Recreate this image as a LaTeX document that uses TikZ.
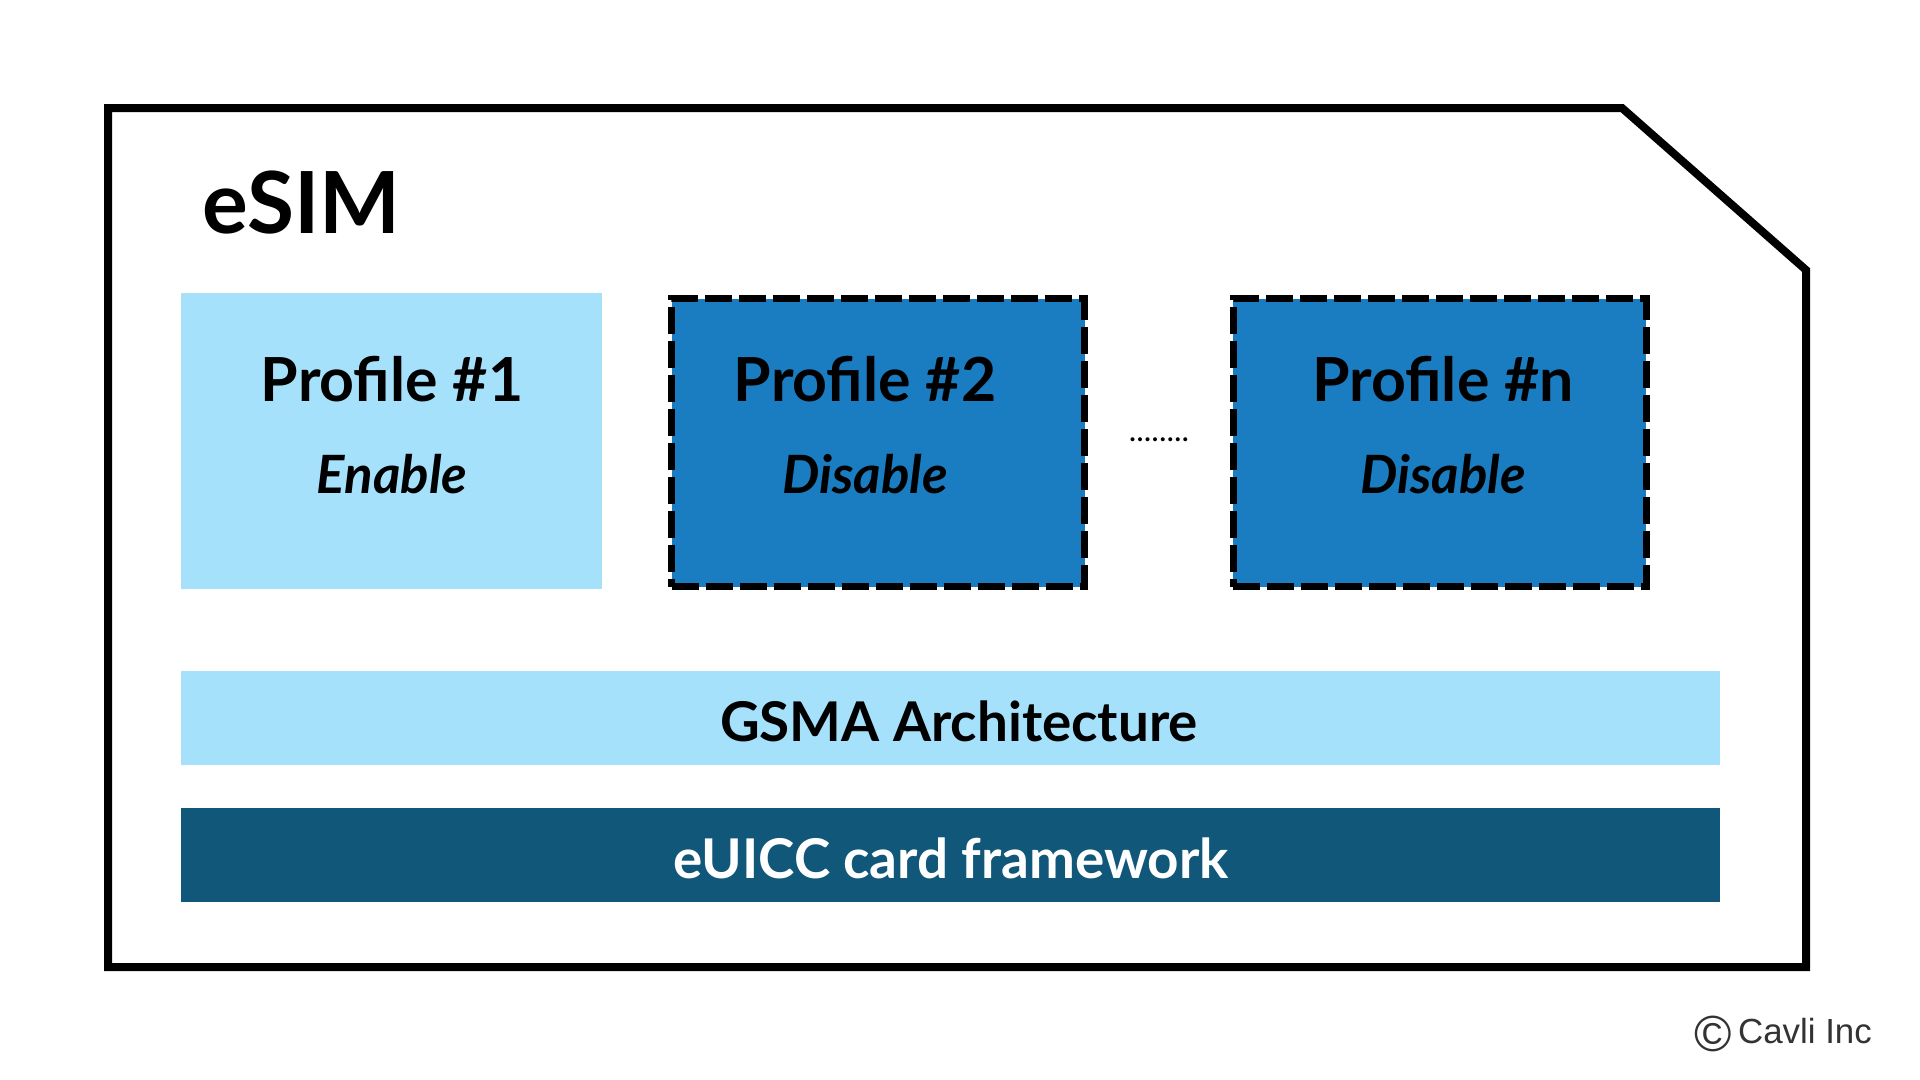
\documentclass[tikz,border=0pt]{standalone}
\usepackage{fontspec}
\setmainfont{Lato}
\newfontfamily\cavlifont{Liberation Sans}
\usepackage{xcolor}
\definecolor{SkyBlue}{HTML}{A6E1FC}
\definecolor{MidBlue}{HTML}{1A7CC1}
\definecolor{DeepBlue}{HTML}{115779}
\definecolor{NoteGray}{HTML}{333333}
\usetikzlibrary{positioning}

\begin{document}
\begin{tikzpicture}[
	box/.style={anchor=north west, inner sep=0pt, outer sep=0pt},
	profileon/.style={box, fill=SkyBlue, minimum width=421bp, minimum height=296bp},
	profileoff/.style={box, fill=MidBlue, draw=black, line width=7bp, dash pattern=on 27bp off 7bp, minimum width=413bp, minimum height=288bp},
	layer/.style={box, minimum width=1539bp, minimum height=94bp},
	profname/.style={anchor=base, inner sep=0pt, font=\bfseries\fontsize{61}{70}\selectfont},
	profstate/.style={anchor=base, inner sep=0pt, font=\bfseries\itshape\fontsize{53}{62}\selectfont},
	layertext/.style={anchor=base, inner sep=0pt, font=\bfseries\fontsize{55}{64}\selectfont}]
	\useasboundingbox (0bp,0bp) rectangle (1920bp,-1080bp);

	% card outline with cut corner
	\draw [line width=8bp, line join=miter] (108bp,-108bp) -- (1622bp,-108bp) -- (1806bp,-270bp)
		-- (1806bp,-967bp) -- (108bp,-967bp) -- cycle;
	\node (esim) at (202bp,-233bp) [anchor=base west, inner sep=0pt, font=\bfseries\fontsize{86}{100}\selectfont] {eSIM};

	% profiles
	\node (p1) at (181bp,-293bp)    [profileon]  {};
	\node (p2) at (671.5bp,-298.5bp) [profileoff] {};
	\node (pn) at (1233bp,-298.5bp) [profileoff] {};

	\node (p1name)  at (392bp,-401bp)  [profname]  {Profile \#1};
	\node (p1state) at (392bp,-493bp)  [profstate] {Enable};
	\node (p2name)  at (865bp,-401bp)  [profname]  {Profile \#2};
	\node (p2state) at (865bp,-493bp)  [profstate] {Disable};
	\node (pnname)  at (1443bp,-401bp) [profname]  {Profile \#n};
	\node (pnstate) at (1443bp,-493bp) [profstate] {Disable};

	\node (dots) at (1159bp,-441bp) [anchor=base, inner sep=0pt, font=\fontsize{32}{34}\selectfont] {........};

	% layers
	\node (gsma)  at (181bp,-671bp) [layer, fill=SkyBlue] {};
	\node (euicc) at (181bp,-808bp) [layer, fill=DeepBlue] {};
	\node (gsmatext)  at (959bp,-741bp) [layertext] {GSMA Architecture};
	\node (euicctext) at (951bp,-878bp) [layertext, text=white] {eUICC card framework};

	\node (credit) at (1872bp,-1043bp) [anchor=base east, inner sep=0pt, text=NoteGray, font=\cavlifont\fontsize{35}{40}\selectfont]
		{\raisebox{-8bp}{\fontsize{51}{51}\selectfont\textcopyright}\hspace{6bp}Cavli Inc};
\end{tikzpicture}
\end{document}
